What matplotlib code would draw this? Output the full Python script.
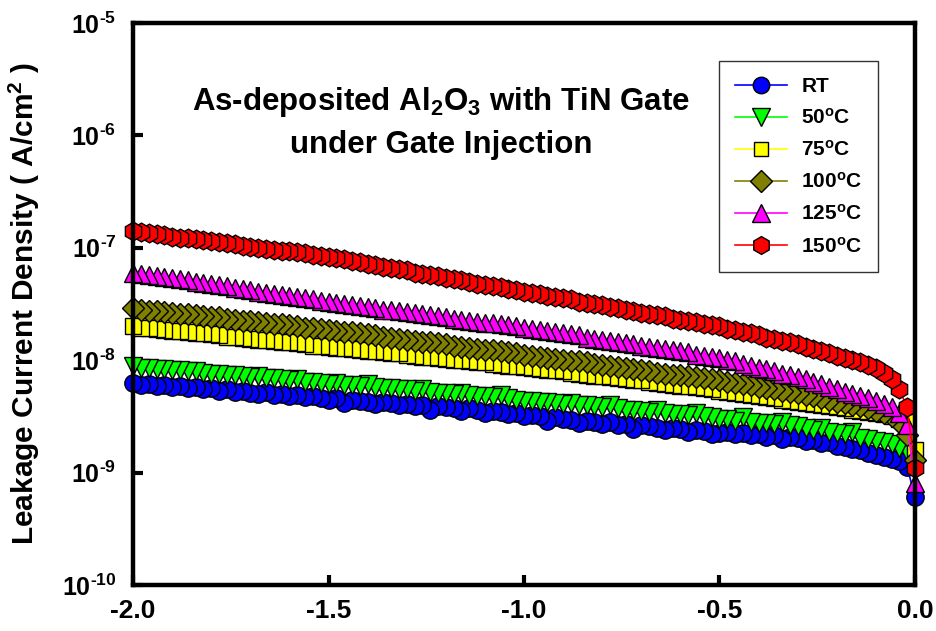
import matplotlib
matplotlib.use("Agg")
import matplotlib.pyplot as plt
import numpy as np
from matplotlib.ticker import FixedLocator, FuncFormatter

# gate voltage sweep (V)
VOLTAGE = [
    -2.00, -1.98, -1.96, -1.94, -1.92, -1.90, -1.88, -1.86, -1.84, -1.82,
    -1.80, -1.78, -1.76, -1.74, -1.72, -1.70, -1.68, -1.66, -1.64, -1.62,
    -1.60, -1.58, -1.56, -1.54, -1.52, -1.50, -1.48, -1.46, -1.44, -1.42,
    -1.40, -1.38, -1.36, -1.34, -1.32, -1.30, -1.28, -1.26, -1.24, -1.22,
    -1.20, -1.18, -1.16, -1.14, -1.12, -1.10, -1.08, -1.06, -1.04, -1.02,
    -1.00, -0.98, -0.96, -0.94, -0.92, -0.90, -0.88, -0.86, -0.84, -0.82,
    -0.80, -0.78, -0.76, -0.74, -0.72, -0.70, -0.68, -0.66, -0.64, -0.62,
    -0.60, -0.58, -0.56, -0.54, -0.52, -0.50, -0.48, -0.46, -0.44, -0.42,
    -0.40, -0.38, -0.36, -0.34, -0.32, -0.30, -0.28, -0.26, -0.24, -0.22,
    -0.20, -0.18, -0.16, -0.14, -0.12, -0.10, -0.08, -0.06, -0.04, -0.02,
    0.00,
]

# log10 of leakage current density (A/cm^2)
LOG_RT = [
    -8.20, -8.22, -8.21, -8.23, -8.22, -8.24, -8.23, -8.25, -8.24, -8.26,
    -8.25, -8.27, -8.26, -8.28, -8.27, -8.29, -8.30, -8.28, -8.31, -8.30,
    -8.32, -8.31, -8.33, -8.32, -8.34, -8.35, -8.34, -8.38, -8.35, -8.36,
    -8.37, -8.39, -8.37, -8.38, -8.40, -8.39, -8.41, -8.40, -8.44, -8.41,
    -8.42, -8.43, -8.45, -8.43, -8.44, -8.47, -8.45, -8.46, -8.48, -8.47,
    -8.50, -8.49, -8.50, -8.54, -8.51, -8.52, -8.53, -8.56, -8.54, -8.55,
    -8.57, -8.55, -8.58, -8.57, -8.61, -8.58, -8.59, -8.60, -8.62, -8.60,
    -8.61, -8.64, -8.62, -8.63, -8.66, -8.65, -8.64, -8.66, -8.65, -8.67,
    -8.66, -8.68, -8.67, -8.70, -8.68, -8.69, -8.72, -8.71, -8.74, -8.73,
    -8.76, -8.77, -8.79, -8.80, -8.83, -8.84, -8.86, -8.88, -8.90, -8.95,
    -9.22,
]
LOG_50C = [
    -8.05, -8.07, -8.07, -8.08, -8.08, -8.09, -8.09, -8.10, -8.10, -8.11,
    -8.12, -8.12, -8.13, -8.13, -8.14, -8.15, -8.14, -8.16, -8.16, -8.17,
    -8.18, -8.17, -8.19, -8.19, -8.20, -8.21, -8.20, -8.22, -8.22, -8.23,
    -8.21, -8.24, -8.25, -8.25, -8.26, -8.26, -8.27, -8.26, -8.28, -8.29,
    -8.29, -8.30, -8.29, -8.31, -8.32, -8.32, -8.33, -8.31, -8.34, -8.35,
    -8.36, -8.36, -8.37, -8.37, -8.38, -8.39, -8.38, -8.40, -8.40, -8.41,
    -8.42, -8.40, -8.43, -8.44, -8.44, -8.45, -8.46, -8.44, -8.47, -8.48,
    -8.48, -8.49, -8.47, -8.50, -8.51, -8.52, -8.52, -8.54, -8.51, -8.55,
    -8.56, -8.56, -8.57, -8.55, -8.58, -8.59, -8.60, -8.62, -8.60, -8.64,
    -8.65, -8.66, -8.64, -8.69, -8.70, -8.72, -8.73, -8.75, -8.78, -8.82,
    -8.95,
]
LOG_75C = [
    -7.70, -7.71, -7.71, -7.72, -7.73, -7.74, -7.74, -7.75, -7.76, -7.76,
    -7.77, -7.78, -7.79, -7.79, -7.80, -7.81, -7.82, -7.82, -7.83, -7.84,
    -7.84, -7.85, -7.86, -7.87, -7.87, -7.88, -7.89, -7.89, -7.90, -7.91,
    -7.92, -7.92, -7.93, -7.94, -7.94, -7.95, -7.96, -7.97, -7.97, -7.98,
    -7.99, -8.00, -8.00, -8.01, -8.02, -8.02, -8.03, -8.04, -8.05, -8.05,
    -8.06, -8.07, -8.08, -8.09, -8.09, -8.10, -8.11, -8.12, -8.13, -8.14,
    -8.14, -8.15, -8.16, -8.17, -8.18, -8.18, -8.19, -8.20, -8.21, -8.22,
    -8.23, -8.23, -8.24, -8.25, -8.26, -8.27, -8.28, -8.29, -8.30, -8.31,
    -8.32, -8.33, -8.34, -8.35, -8.36, -8.37, -8.38, -8.39, -8.40, -8.41,
    -8.42, -8.43, -8.44, -8.45, -8.46, -8.47, -8.48, -8.50, -8.52, -8.55,
    -8.80,
]
LOG_100C = [
    -7.54, -7.55, -7.56, -7.56, -7.57, -7.58, -7.59, -7.59, -7.60, -7.61,
    -7.62, -7.62, -7.63, -7.64, -7.65, -7.65, -7.66, -7.67, -7.68, -7.68,
    -7.69, -7.70, -7.71, -7.71, -7.72, -7.73, -7.74, -7.75, -7.75, -7.76,
    -7.77, -7.78, -7.79, -7.80, -7.81, -7.82, -7.83, -7.84, -7.84, -7.85,
    -7.86, -7.87, -7.88, -7.89, -7.90, -7.91, -7.91, -7.92, -7.93, -7.94,
    -7.95, -7.96, -7.97, -7.98, -7.99, -8.00, -8.01, -8.01, -8.02, -8.03,
    -8.04, -8.05, -8.06, -8.07, -8.08, -8.09, -8.10, -8.11, -8.12, -8.13,
    -8.13, -8.14, -8.15, -8.16, -8.17, -8.18, -8.19, -8.20, -8.21, -8.22,
    -8.24, -8.25, -8.26, -8.27, -8.28, -8.29, -8.31, -8.32, -8.34, -8.35,
    -8.37, -8.38, -8.40, -8.41, -8.43, -8.45, -8.47, -8.50, -8.55, -8.67,
    -8.89,
]
LOG_125C = [
    -7.22, -7.23, -7.24, -7.25, -7.26, -7.27, -7.28, -7.29, -7.30, -7.31,
    -7.32, -7.33, -7.34, -7.36, -7.37, -7.38, -7.39, -7.40, -7.41, -7.42,
    -7.43, -7.44, -7.45, -7.46, -7.47, -7.48, -7.49, -7.50, -7.51, -7.52,
    -7.53, -7.54, -7.55, -7.55, -7.56, -7.57, -7.58, -7.59, -7.60, -7.61,
    -7.62, -7.63, -7.64, -7.65, -7.66, -7.67, -7.67, -7.68, -7.69, -7.70,
    -7.71, -7.72, -7.73, -7.74, -7.75, -7.76, -7.77, -7.78, -7.80, -7.81,
    -7.82, -7.83, -7.84, -7.85, -7.86, -7.87, -7.88, -7.89, -7.90, -7.91,
    -7.92, -7.93, -7.95, -7.96, -7.97, -7.98, -8.00, -8.01, -8.03, -8.05,
    -8.07, -8.08, -8.10, -8.12, -8.13, -8.15, -8.17, -8.19, -8.21, -8.24,
    -8.26, -8.28, -8.30, -8.32, -8.34, -8.36, -8.39, -8.42, -8.47, -8.58,
    -9.09,
]
LOG_150C = [
    -6.85, -6.86, -6.87, -6.88, -6.89, -6.90, -6.91, -6.91, -6.92, -6.93,
    -6.94, -6.95, -6.96, -6.97, -6.98, -6.99, -7.00, -7.01, -7.02, -7.03,
    -7.03, -7.04, -7.05, -7.06, -7.07, -7.08, -7.09, -7.10, -7.12, -7.13,
    -7.14, -7.15, -7.17, -7.18, -7.19, -7.20, -7.22, -7.23, -7.24, -7.25,
    -7.27, -7.28, -7.29, -7.30, -7.32, -7.33, -7.34, -7.35, -7.37, -7.38,
    -7.39, -7.40, -7.41, -7.43, -7.44, -7.45, -7.46, -7.48, -7.49, -7.50,
    -7.51, -7.53, -7.54, -7.55, -7.56, -7.58, -7.59, -7.60, -7.61, -7.63,
    -7.64, -7.65, -7.66, -7.68, -7.69, -7.70, -7.72, -7.73, -7.75, -7.76,
    -7.78, -7.80, -7.81, -7.83, -7.84, -7.86, -7.88, -7.90, -7.92, -7.94,
    -7.96, -7.98, -8.00, -8.02, -8.04, -8.07, -8.11, -8.17, -8.26, -8.42,
    -8.96,
]

LABELS = ["RT", r"50$^{\mathrm{o}}$C", r"75$^{\mathrm{o}}$C",
          r"100$^{\mathrm{o}}$C", r"125$^{\mathrm{o}}$C", r"150$^{\mathrm{o}}$C"]
SERIES = [LOG_RT, LOG_50C, LOG_75C, LOG_100C, LOG_125C, LOG_150C]
COLORS = ["#0000FF", "#00FF00", "#FFFF00", "#808000", "#FF00FF", "#FF0000"]
MARKERS = ["o", "v", "s", "D", "^", "h"]
SIZES = [12.5, 13, 11, 11.5, 13, 13.5]

plt.rcParams["font.family"] = ["Liberation Sans", "DejaVu Sans"]
plt.rcParams["font.weight"] = "bold"
plt.rcParams["mathtext.fontset"] = "custom"
plt.rcParams["mathtext.rm"] = "Liberation Sans:bold"
plt.rcParams["mathtext.it"] = "Liberation Sans:bold"
plt.rcParams["mathtext.bf"] = "Liberation Sans:bold"
plt.rcParams["axes.unicode_minus"] = False

fig = plt.figure(figsize=(9.37, 6.31), dpi=100)
ax = fig.add_axes([0.142, 0.073, 0.8345, 0.8905])

v = np.array(VOLTAGE)
for vals, label, color, marker, ms in zip(SERIES, LABELS, COLORS, MARKERS, SIZES):
    j = 10 ** np.array(vals)
    # sweep ran 0 -> -2 V, so draw in that order (later markers on top)
    ax.plot(v[::-1], j[::-1], color=color, lw=1.2, marker=marker, ms=ms,
            markerfacecolor=color, markeredgecolor="black", markeredgewidth=1.0,
            label=label, clip_on=False)

ax.set_yscale("log")
ax.set_xlim(-2.0, 0.0)
ax.set_ylim(1e-10, 1e-5)
ax.yaxis.set_major_locator(FixedLocator([1e-10, 1e-9, 1e-8, 1e-7, 1e-6, 1e-5]))
ax.yaxis.set_minor_locator(FixedLocator([]))
ax.yaxis.set_major_formatter(
    FuncFormatter(lambda y, _: r"10$^{\text{%d}}$" % round(np.log10(y))))
ax.set_xticks([-2.0, -1.5, -1.0, -0.5, 0.0])
ax.set_xticklabels(["-2.0", "-1.5", "-1.0", "-0.5", "0.0"])

for s in ax.spines.values():
    s.set_linewidth(3.2)
ax.tick_params(axis="both", which="major", direction="in", length=7, width=3)
ax.tick_params(axis="x", labelsize=19, pad=10)
ax.tick_params(axis="y", labelsize=18, pad=12)

ax.set_ylabel(r"Leakage Current Density ( A/cm$^{2}$ )", fontsize=21.5,
              fontweight="bold", labelpad=14)

ax.text(0.394, 0.860, r"As-deposited Al$_{2}$O$_{3}$ with TiN Gate",
        transform=ax.transAxes, ha="center", va="center", fontsize=22.5,
        fontweight="bold")
ax.text(0.394, 0.783, "under Gate Injection", transform=ax.transAxes,
        ha="center", va="center", fontsize=22.5, fontweight="bold")

leg = ax.legend(loc="upper right", bbox_to_anchor=(0.9527, 0.932), fontsize=15,
                frameon=True, fancybox=False, edgecolor="black",
                borderaxespad=0.0, borderpad=0.75, labelspacing=0.58,
                handlelength=2.5, handletextpad=0.7, markerscale=0.95)
leg.get_frame().set_linewidth(1.0)

fig.savefig("out.png", dpi=100)
